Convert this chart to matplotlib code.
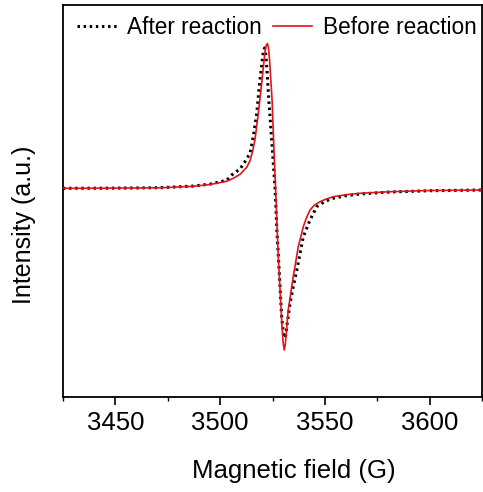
import matplotlib
matplotlib.use("Agg")
import matplotlib.pyplot as plt
from matplotlib.ticker import MultipleLocator

plt.rcParams['font.family'] = ['Liberation Sans', 'DejaVu Sans']

# EPR spectra, intensity in arbitrary units (baseline at 0)
field_before = [3425.0, 3442.7, 3457.0, 3471.3, 3487.1, 3495.2, 3503.1, 3506.1, 3509.5,
                3512.7, 3514.3, 3515.5, 3516.6, 3518.2, 3519.8, 3521.4, 3522.0, 3522.6,
                3523.1, 3523.6, 3524.8, 3525.7, 3526.7, 3527.6, 3528.6, 3529.5, 3530.1,
                3530.6, 3531.1, 3531.7, 3532.5, 3534.9, 3537.3, 3539.7, 3541.3, 3542.9,
                3545.0, 3547.7, 3550.5, 3554.0, 3560.0, 3566.8, 3581.1, 3600.2, 3625.0]
int_before = [0.000, 0.001, 0.003, 0.005, 0.020, 0.038, 0.070, 0.098, 0.140,
              0.210, 0.278, 0.370, 0.483, 0.743, 1.043, 1.363, 1.430, 1.448,
              1.400, 1.283, 0.883, 0.383, -0.117, -0.617, -1.017, -1.367, -1.550,
              -1.617, -1.560, -1.417, -1.217, -0.884, -0.584, -0.384, -0.290, -0.217,
              -0.168, -0.134, -0.108, -0.084, -0.064, -0.050, -0.034, -0.022, -0.017]

field_after = [3425.0, 3442.7, 3457.0, 3471.3, 3487.1, 3495.2, 3503.1, 3505.5, 3509.5,
               3512.4, 3514.3, 3515.8, 3517.5, 3519.0, 3520.6, 3521.2, 3521.7, 3522.1,
               3523.3, 3524.8, 3526.2, 3527.1, 3528.1, 3529.4, 3530.3, 3531.0, 3531.5,
               3531.9, 3533.4, 3534.9, 3536.6, 3539.7, 3542.9, 3546.1, 3550.0, 3553.9,
               3560.0, 3566.8, 3581.1, 3600.2, 3625.0]
int_after = [0.000, 0.001, 0.003, 0.006, 0.022, 0.042, 0.080, 0.133, 0.193,
             0.283, 0.353, 0.513, 0.753, 1.083, 1.363, 1.403, 1.360, 1.263,
             0.863, 0.433, 0.003, -0.417, -0.797, -1.297, -1.467, -1.497, -1.450,
             -1.367, -1.147, -0.984, -0.817, -0.484, -0.317, -0.184, -0.130, -0.100,
             -0.074, -0.057, -0.037, -0.024, -0.017]

fig = plt.figure(figsize=(4.83, 4.92), dpi=100)
ax = fig.add_axes([0.1304, 0.1931, 0.8676, 0.7967])

ax.plot(field_after, int_after, color='black', linestyle=(0, (0.8, 1.2)), linewidth=2.2,
        label='After reaction', zorder=2)
ax.plot(field_before, int_before, color='#e0141b', linewidth=1.2,
        label='Before reaction', zorder=3)

ax.set_xlim(3425, 3625)
ax.set_ylim(-2.087, 1.833)
ax.xaxis.set_major_locator(MultipleLocator(50))
ax.xaxis.set_minor_locator(MultipleLocator(25))
ax.set_yticks([])
ax.tick_params(axis='x', which='major', direction='out', length=6, width=1.2,
               labelsize=18.5, pad=4)
ax.tick_params(axis='x', which='minor', direction='out', length=3, width=1.0)
for s in ax.spines.values():
    s.set_linewidth(1.3)

ax.set_xlabel('Magnetic field (G)', fontsize=18.5)
ax.set_ylabel('Intensity (a.u.)', fontsize=18)
ax.xaxis.set_label_coords(0.551, -0.158)
ax.yaxis.set_label_coords(-0.065, 0.44)

ax.legend(loc='upper center', bbox_to_anchor=(0.51, 0.99), ncol=2, frameon=False,
          fontsize=16.3, handlelength=1.75, handletextpad=0.45, columnspacing=0.5,
          borderpad=0.3, borderaxespad=0.0)

fig.savefig('out.png', dpi=100)
